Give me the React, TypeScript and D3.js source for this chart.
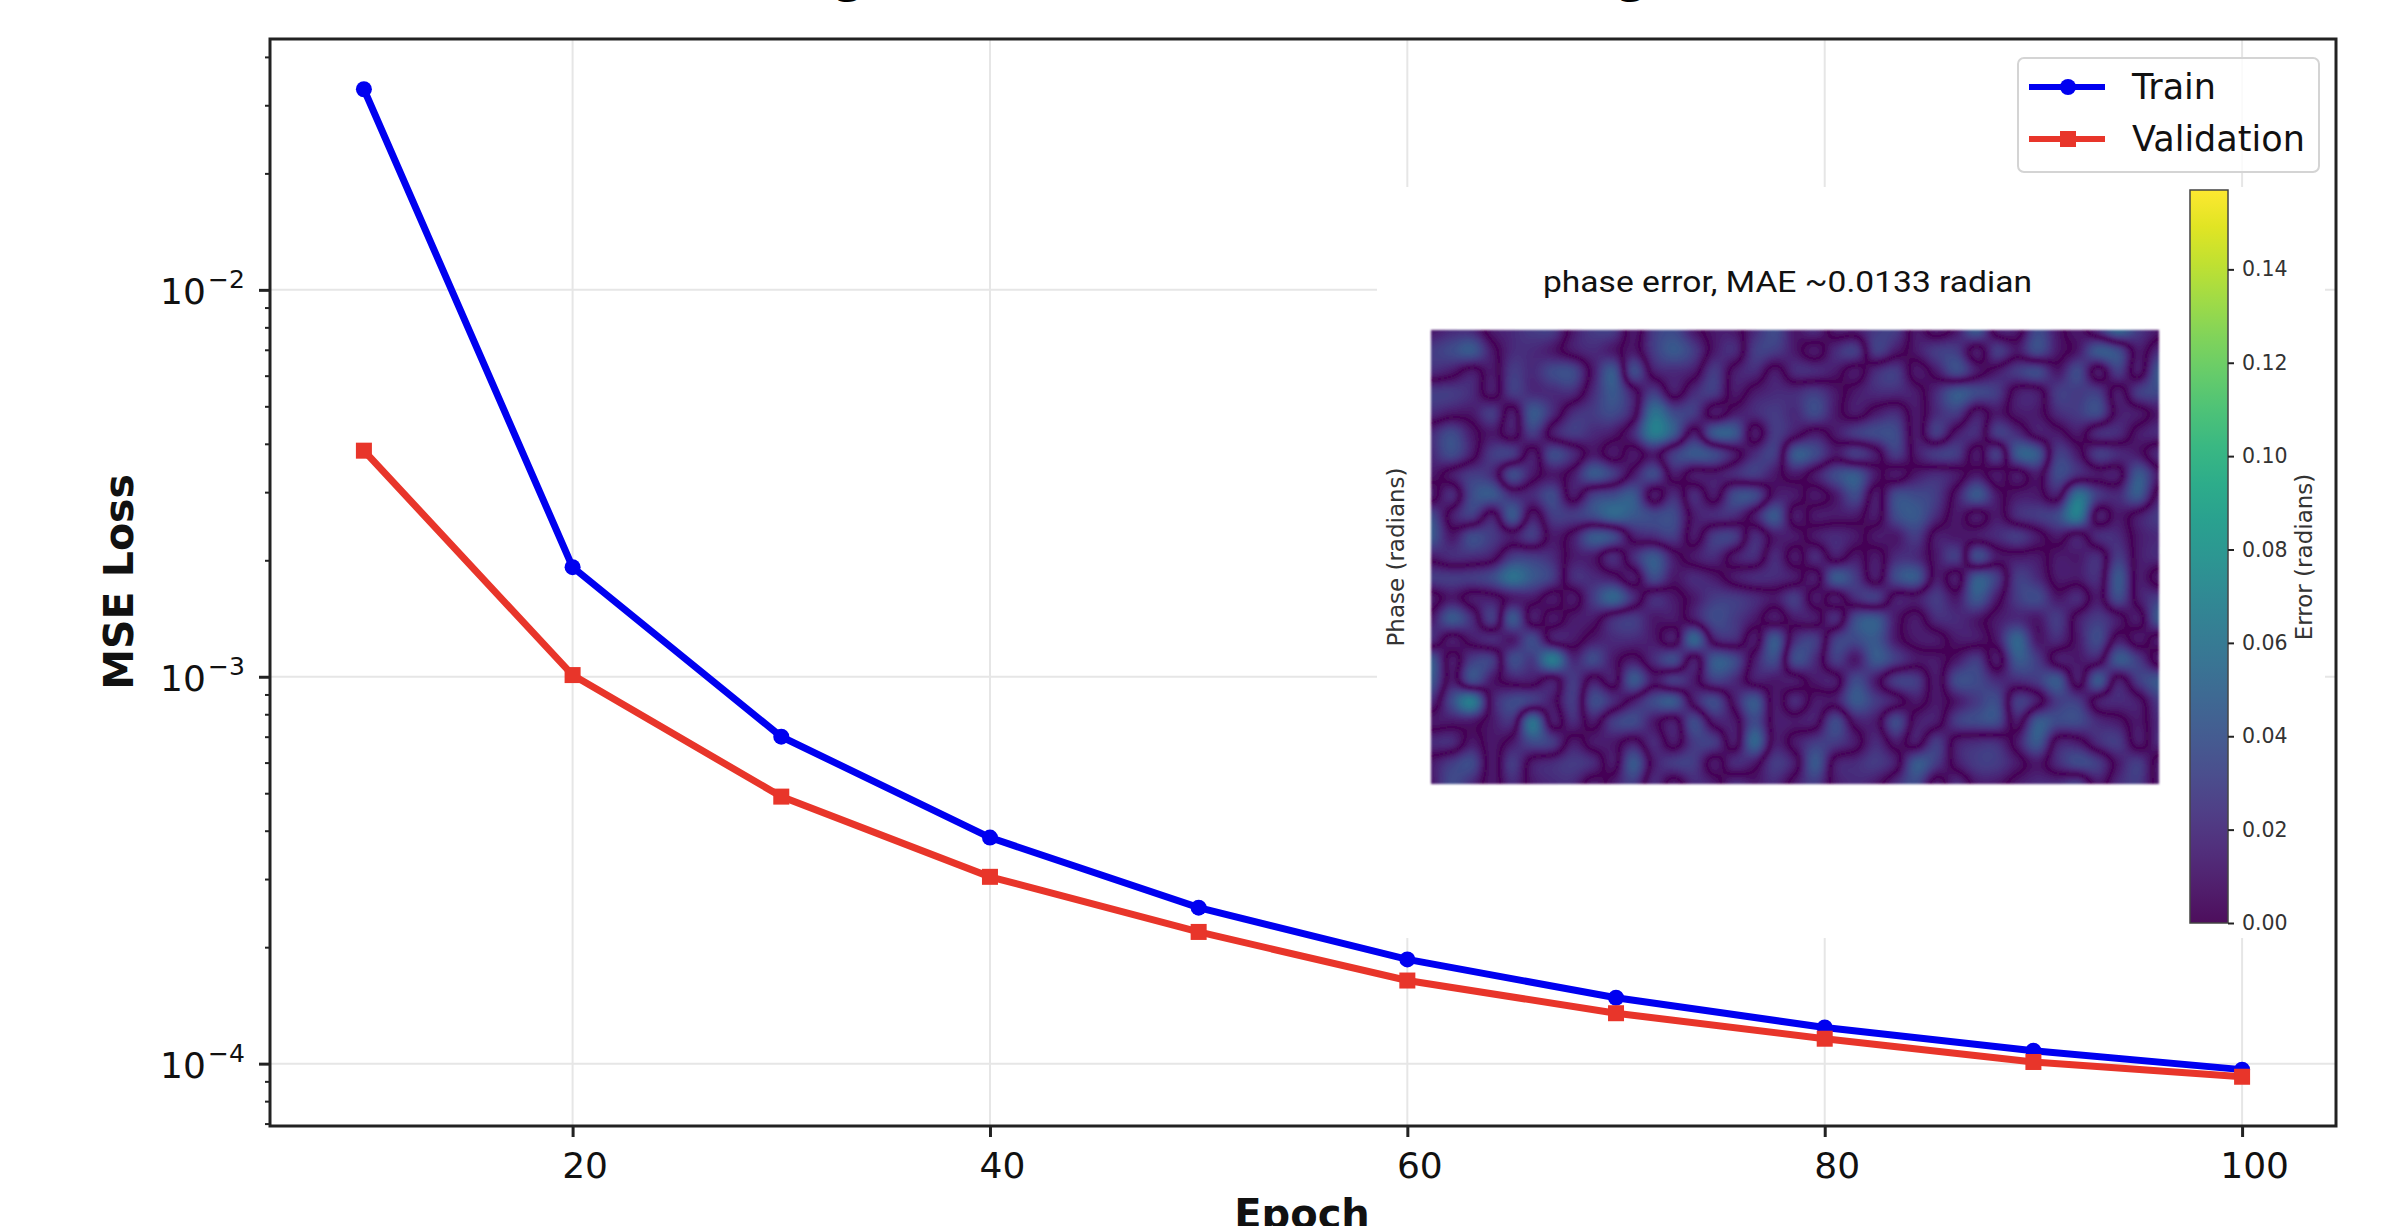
import React, { useEffect, useRef } from 'react';
import * as d3 from 'd3';

const epochs = [10, 20, 30, 40, 50, 60, 70, 80, 90, 100];
const trainLoss = [0.033, 0.00192, 0.0007, 0.000384, 0.000253, 0.000186, 0.000148, 0.000124, 0.000108, 0.0000965];
const validationLoss = [0.00384, 0.00101, 0.00049, 0.000304, 0.000219, 0.000164, 0.000135, 0.000116, 0.000101, 0.0000925];

const xTicks = [20, 40, 60, 80, 100];
const yMajorTicks = [1e-2, 1e-3, 1e-4];
const yTickExponents = ['\u22122', '\u22123', '\u22124'];
const colorbarTicks = [0, 0.02, 0.04, 0.06, 0.08, 0.1, 0.12, 0.14];

// phase error, in hundredths of a radian. The sign flips
// across each dark vein, the picture shows the absolute value.
const phaseErrorRows = [
  [1, 2, 2, -1, -2, -3, -3, 1, 3, 3, -1, 3, 4, 1, -1, -1, 2, 4, 1, 2, -1, -1, -3, -3, 1, -1, 1, 5, -1, -1, 4, 1, -1, 2, 6, 3, 1],
  [3, 4, 5, 1, -2, -2, -1, 1, 2, 1, -1, 3, 5, 3, -1, -2, 3, 3, 1, -1, 2, 3, -3, -1, 1, 3, 3, -1, 3, 1, 4, 1, -1, -5, -4, 1, -2],
  [2, 1, -1, 1, -3, -2, -4, -4, 1, 5, -4, 1, 2, 1, -3, 1, 2, -1, 2, 2, 1, -1, 2, 3, -1, 1, 4, 1, -1, -3, -4, -1, -4, 1, -3, 1, -5],
  [-3, -3, -2, 1, -3, -2, -2, -2, 2, 5, 1, -3, 1, -2, -3, 1, -1, -2, -2, -3, -1, 1, 2, 2, 1, -2, -5, -4, -3, 1, 1, -3, -3, -3, 1, -3, -4],
  [-2, -1, -1, -3, 1, -5, -2, 2, 3, 4, 1, -7, -4, -3, 1, -1, -2, -3, -2, -4, -1, 1, -1, -2, 1, -2, -3, 1, -1, 1, 1, -2, -3, -4, 1, 1, -1],
  [2, 4, 1, -1, 1, -3, 1, 3, 2, 1, -2, -8, -5, 1, -5, -5, 1, -3, -1, 1, -1, -3, -4, -4, 1, -3, 1, 2, -3, -2, 1, 1, -1, 2, 2, -1, -2],
  [2, 4, 1, -3, -3, 1, -4, -2, 1, -1, 1, -1, 3, 5, 4, 1, -2, -3, 5, 4, 1, 3, 1, -3, 1, 3, 3, -1, 3, -5, -5, 3, 1, -3, -2, -1, 2],
  [1, -1, -3, -2, 4, 1, -1, 1, 5, 3, -1, -4, 1, -1, -1, -2, -3, -1, 1, -1, -4, -5, -1, 1, -1, -2, -1, 1, -1, 1, -1, 4, 2, 1, 1, -5, -1],
  [-1, 2, -4, -5, -2, -2, -4, 1, -3, -4, -5, 1, -2, 2, -1, 4, 4, -1, -1, 1, -1, -4, 1, -4, -4, -3, 1, 5, 1, -1, -1, 1, -7, -3, -2, -5, 1],
  [4, -1, -3, 1, -5, 1, -3, -3, -4, -6, -5, -4, -4, 1, 2, 2, -1, -5, 1, -1, -1, -1, 1, -4, -5, -2, 1, -1, 1, -2, -3, -4, -8, 1, -1, 1, 3],
  [5, 1, 4, 3, 1, 3, -1, 1, 5, 4, -1, -2, -3, 1, -3, -3, 2, -1, -1, 1, 2, 1, -1, -1, -3, 1, 1, 1, 2, 3, 1, -1, 1, -2, -2, 1, 2],
  [1, 2, 2, 1, -3, -3, -2, 1, 1, -2, 2, 5, 1, -1, -2, 1, 2, -2, 1, -2, 1, -1, 1, -2, -2, 1, 3, -4, -1, -1, -1, 1, 1, 2, -3, 1, 2],
  [-3, -3, -3, -4, -7, -5, -3, 2, 2, 1, -1, 4, 1, 2, 1, -1, -2, -2, -1, 1, -5, -3, 1, -4, -5, 1, -1, 5, 3, -3, -2, 1, 1, 2, -5, 1, -1],
  [1, -1, 1, 1, -1, -1, 1, -1, 3, 6, 2, -2, -1, 1, 3, 3, 2, 1, 3, -1, 1, -2, -3, 1, 1, 3, 1, 5, 1, -3, -4, -1, -2, 1, -4, 1, 3],
  [-1, -5, -2, 3, -5, 1, -1, 1, 1, -2, -3, -1, -1, 1, 4, 3, 1, -1, 1, 1, -2, 4, 5, 1, -1, 2, 2, 1, -1, -2, -1, -3, 1, 3, 1, -1, 5],
  [-2, 1, -1, -2, -1, -4, 1, 1, -1, -2, -2, -1, 1, -6, 1, 2, -1, 5, -2, -3, 3, 4, 5, 1, -1, -1, 1, 1, -1, -6, -1, -2, 1, 4, -1, 1, -1],
  [5, -1, 3, 3, -4, -3, -8, -2, -4, -1, 1, -2, -4, 1, -5, -4, 1, 4, -4, -2, 3, 1, 5, 3, 1, 1, -1, -3, 1, -5, -3, 1, 1, 1, -5, -3, 1],
  [5, -1, 4, 1, -1, -1, 1, -3, 1, -1, 5, 1, 3, 1, -3, -2, 1, 1, 1, -1, -1, 4, 1, -3, -3, 1, -4, -4, -2, -2, -3, -5, 1, -5, 1, -3, -5],
  [2, -4, -8, 1, 4, 3, 1, -3, 4, 2, -1, -4, -5, 1, 4, -1, -5, 1, -2, 1, 1, 5, 3, 1, -1, 1, -1, -3, -4, 3, 1, -3, -3, 1, 2, 1, -3],
  [-1, -1, -1, 1, 2, -7, 1, -2, 1, -3, -4, -1, 1, -4, 1, 1, -4, 1, 1, 1, -4, 1, 1, -4, 1, 1, -3, -4, -4, 1, -5, -4, -4, -2, -1, 1, -2],
  [2, 2, -1, 1, -1, -4, -3, 1, -1, -1, 1, -2, 1, -3, -3, 1, -6, 1, -1, -3, -3, -1, 2, -1, 1, -3, 1, 2, 2, -1, -5, 1, 1, -2, -3, 1, -2],
  [-1, -3, -4, 1, -3, 1, 2, 3, 2, -1, 5, -1, -3, -3, 1, -2, -1, 3, 1, -5, 1, 2, 3, 1, -5, -3, 1, 3, 3, 1, -1, 2, 4, 3, -1, -3, 1],
  [-1, -4, -2, 1, -2, 1, 2, 2, -1, 1, 3, -2, 1, -2, -1, 2, 1, 2, -1, -3, 1, 2, 1, -2, -4, 1, -2, 1, 1, -1, -2, -2, -3, 1, -2, -3, 1],
];

const phaseErrorUnit = 0.01;
const colorbarMax = 0.157;

const legendEntries = ['Train', 'Validation'];
// only the descenders of this title survive the crop, the wording is a guess
const titleText = 'Training and Validation Loss (MSE) Log Scale';
const insetTitle = 'phase error, MAE ~0.0133 radian';

const BLUE = '#0000f0';
const RED = '#e8352a';
const FONT = '"DejaVu Sans", sans-serif';

function catmull(p0: number, p1: number, p2: number, p3: number, t: number) {
  return 0.5 * (2 * p1 + (p2 - p0) * t + (2 * p0 - 5 * p1 + 4 * p2 - p3) * t * t + (3 * p1 - p0 - 3 * p2 + p3) * t * t * t);
}

// the coarse grid reads a bit bright and makes the veins too wide
const veinCurve = (v: number) => 0.11 * Math.pow(v / 0.11, 0.9) * 0.78;

// smooth the read grid the way imshow interpolation does, then paint |error|
function heatmapUrl(w: number, h: number, color: (v: number) => string) {
  const rows = phaseErrorRows.length;
  const cols = phaseErrorRows[0].length;
  const canvas = document.createElement('canvas');
  canvas.width = w;
  canvas.height = h;
  const ctx = canvas.getContext('2d')!;
  const at = (r: number, c: number) =>
    phaseErrorRows[Math.max(0, Math.min(rows - 1, r))][Math.max(0, Math.min(cols - 1, c))];
  for (let py = 0; py < h; py++) {
    const gy = (py / (h - 1)) * (rows - 1);
    const r = Math.min(rows - 2, Math.floor(gy));
    const ty = gy - r;
    for (let px = 0; px < w; px++) {
      const gx = (px / (w - 1)) * (cols - 1);
      const c = Math.min(cols - 2, Math.floor(gx));
      const tx = gx - c;
      const col = [-1, 0, 1, 2].map((dr) =>
        catmull(at(r + dr, c - 1), at(r + dr, c), at(r + dr, c + 1), at(r + dr, c + 2), tx),
      );
      const v = Math.abs(catmull(col[0], col[1], col[2], col[3], ty)) * phaseErrorUnit;
      ctx.fillStyle = color(veinCurve(v));
      ctx.fillRect(px, py, 1, 1);
    }
  }
  return canvas.toDataURL();
}

export default function App() {
  const svgRef = useRef<SVGSVGElement>(null);

  useEffect(() => {
    const svg = d3.select(svgRef.current);
    svg.selectAll('*').remove();

    const left = 270;
    const right = 2336;
    const top = 39;
    const bottom = 1126;

    const x = d3.scaleLinear().domain([5.5, 104.5]).range([left, right]);
    const y = d3.scaleLog().domain([6.9e-5, 0.0445]).range([bottom, top]);

    svg.append('rect').attr('width', 2388).attr('height', 1226).attr('fill', '#fff');

    // cropped title
    svg.append('text')
      .attr('x', 660).attr('y', -7)
      .attr('font-family', FONT).attr('font-weight', 'bold').attr('font-size', 45)
      .text(titleText);

    // grid
    const grid = svg.append('g').attr('stroke', '#e6e6e6').attr('stroke-width', 2);
    xTicks.forEach((t) => {
      grid.append('line').attr('x1', x(t)).attr('x2', x(t)).attr('y1', top).attr('y2', bottom);
    });
    yMajorTicks.forEach((t) => {
      grid.append('line').attr('x1', left).attr('x2', right).attr('y1', y(t)).attr('y2', y(t));
    });

    // series
    const lineGen = (vals: number[]) =>
      d3.line<number>().x((_, i) => x(epochs[i])).y((d) => y(d))(vals);

    svg.append('path')
      .attr('d', lineGen(trainLoss))
      .attr('fill', 'none').attr('stroke', BLUE).attr('stroke-width', 7);
    svg.append('g').selectAll('circle').data(trainLoss).join('circle')
      .attr('cx', (_, i) => x(epochs[i])).attr('cy', (d) => y(d))
      .attr('r', 8).attr('fill', BLUE);

    svg.append('path')
      .attr('d', lineGen(validationLoss))
      .attr('fill', 'none').attr('stroke', RED).attr('stroke-width', 7);
    svg.append('g').selectAll('rect').data(validationLoss).join('rect')
      .attr('x', (_, i) => x(epochs[i]) - 8).attr('y', (d) => y(d) - 8)
      .attr('width', 16).attr('height', 16).attr('fill', RED);

    // axes
    const xAxis = d3.axisBottom(x).tickValues(xTicks).tickSize(11).tickSizeOuter(0);
    const xG = svg.append('g').attr('transform', `translate(0,${bottom})`).call(xAxis);
    xG.select('.domain').remove();
    xG.selectAll('line').attr('stroke', '#222').attr('stroke-width', 3);
    xG.selectAll('text')
      .attr('font-family', FONT).attr('font-size', 36).attr('fill', '#111')
      .attr('dx', 12).attr('dy', 0).attr('y', 52);

    const yMinor = y.ticks(40).filter((t) => !yMajorTicks.some((m) => Math.abs(m - t) / m < 1e-6));
    const yMinorAxis = d3.axisLeft(y).tickValues(yMinor).tickSize(5).tickFormat(() => '');
    const yMinorG = svg.append('g').attr('transform', `translate(${left},0)`).call(yMinorAxis);
    yMinorG.select('.domain').remove();
    yMinorG.selectAll('line').attr('stroke', '#222').attr('stroke-width', 2);

    const yAxis = d3.axisLeft(y).tickValues(yMajorTicks).tickSize(11).tickFormat(() => '');
    const yG = svg.append('g').attr('transform', `translate(${left},0)`).call(yAxis);
    yG.select('.domain').remove();
    yG.selectAll('line').attr('stroke', '#222').attr('stroke-width', 3);

    yMajorTicks.forEach((t, i) => {
      svg.append('text')
        .attr('x', 160).attr('y', y(t) + 14)
        .attr('font-family', FONT).attr('font-size', 36).attr('fill', '#111')
        .text('10');
      svg.append('text')
        .attr('x', 208).attr('y', y(t) - 2)
        .attr('font-family', FONT).attr('font-size', 25).attr('fill', '#111')
        .text(yTickExponents[i]);
    });

    // axis labels, Epoch runs off the bottom edge like the reference
    svg.append('text')
      .attr('x', 1302).attr('y', 1228)
      .attr('text-anchor', 'middle')
      .attr('font-family', FONT).attr('font-weight', 'bold').attr('font-size', 40).attr('fill', '#111')
      .text('Epoch');
    svg.append('text')
      .attr('transform', 'translate(133,582) rotate(-90)')
      .attr('text-anchor', 'middle')
      .attr('font-family', FONT).attr('font-weight', 'bold').attr('font-size', 41).attr('fill', '#111')
      .text('MSE Loss');

    // legend
    const legend = svg.append('g');
    legend.append('rect')
      .attr('x', 2018).attr('y', 58).attr('width', 301).attr('height', 114).attr('rx', 6)
      .attr('fill', '#fff').attr('fill-opacity', 0.8)
      .attr('stroke', '#d4d4d4').attr('stroke-width', 2);
    legendEntries.forEach((name, i) => {
      const ly = i === 0 ? 87 : 139;
      const color = i === 0 ? BLUE : RED;
      legend.append('line')
        .attr('x1', 2029).attr('x2', 2105).attr('y1', ly).attr('y2', ly)
        .attr('stroke', color).attr('stroke-width', 6);
      if (i === 0) {
        legend.append('circle').attr('cx', 2068).attr('cy', ly).attr('r', 8).attr('fill', color);
      } else {
        legend.append('rect').attr('x', 2060).attr('y', ly - 8).attr('width', 16).attr('height', 16).attr('fill', color);
      }
      legend.append('text')
        .attr('x', 2132).attr('y', ly + 12)
        .attr('font-family', FONT).attr('font-size', 35).attr('fill', '#111')
        .text(name);
    });

    // pasted inset: white panel, heatmap, colorbar
    svg.append('rect').attr('x', 1377).attr('y', 187).attr('width', 948).attr('height', 751).attr('fill', '#fff');

    const defs = svg.append('defs');
    defs.append('filter').attr('id', 'softHeat')
      .append('feGaussianBlur').attr('stdDeviation', 1);

    const viridis = d3.scaleSequential(d3.interpolateViridis).domain([0, colorbarMax]);
    svg.append('image')
      .attr('x', 1431).attr('y', 330).attr('width', 728).attr('height', 454)
      .attr('preserveAspectRatio', 'none')
      .attr('filter', 'url(#softHeat)')
      .attr('href', heatmapUrl(728, 454, (v) => d3.color(viridis(v))!.formatHex()));

    svg.append('text')
      .attr('x', 1543).attr('y', 292)
      .attr('font-family', 'Roboto, sans-serif').attr('font-size', 30).attr('fill', '#111')
      .attr('textLength', 489).attr('lengthAdjust', 'spacingAndGlyphs')
      .text(insetTitle);
    svg.append('text')
      .attr('transform', 'translate(1404,557) rotate(-90)')
      .attr('text-anchor', 'middle')
      .attr('font-family', FONT).attr('font-size', 23).attr('fill', '#333')
      .text('Phase (radians)');

    const cb = d3.scaleLinear().domain([0, colorbarMax]).range([923, 190]);
    const gradient = defs.append('linearGradient')
      .attr('id', 'viridisBar').attr('x1', 0).attr('x2', 0).attr('y1', 1).attr('y2', 0);
    d3.range(0, 1.001, 0.05).forEach((t) => {
      gradient.append('stop').attr('offset', t).attr('stop-color', d3.interpolateViridis(t));
    });
    svg.append('rect')
      .attr('x', 2190).attr('y', cb(colorbarMax)).attr('width', 38).attr('height', cb(0) - cb(colorbarMax))
      .attr('fill', 'url(#viridisBar)').attr('fill-opacity', 0.95)
      .attr('stroke', '#444').attr('stroke-width', 1.5);

    const cbAxis = d3.axisRight(cb).tickValues(colorbarTicks).tickSize(6).tickFormat(d3.format('.2f'));
    const cbG = svg.append('g').attr('transform', 'translate(2228,0)').call(cbAxis);
    cbG.select('.domain').remove();
    cbG.selectAll('line').attr('stroke', '#222').attr('stroke-width', 2);
    cbG.selectAll('text')
      .attr('x', 14)
      .attr('font-family', FONT).attr('font-size', 20.5).attr('fill', '#333');

    svg.append('text')
      .attr('transform', 'translate(2312,557) rotate(-90)')
      .attr('text-anchor', 'middle')
      .attr('font-family', FONT).attr('font-size', 23).attr('fill', '#333')
      .text('Error (radians)');

    // spines go on last
    svg.append('rect')
      .attr('x', left).attr('y', top).attr('width', right - left).attr('height', bottom - top)
      .attr('fill', 'none').attr('stroke', '#222').attr('stroke-width', 3);
  }, []);

  return (
    <svg
      ref={svgRef}
      width={2388}
      height={1226}
      style={{ position: 'absolute', left: 0, top: 0, display: 'block' }}
    />
  );
}
